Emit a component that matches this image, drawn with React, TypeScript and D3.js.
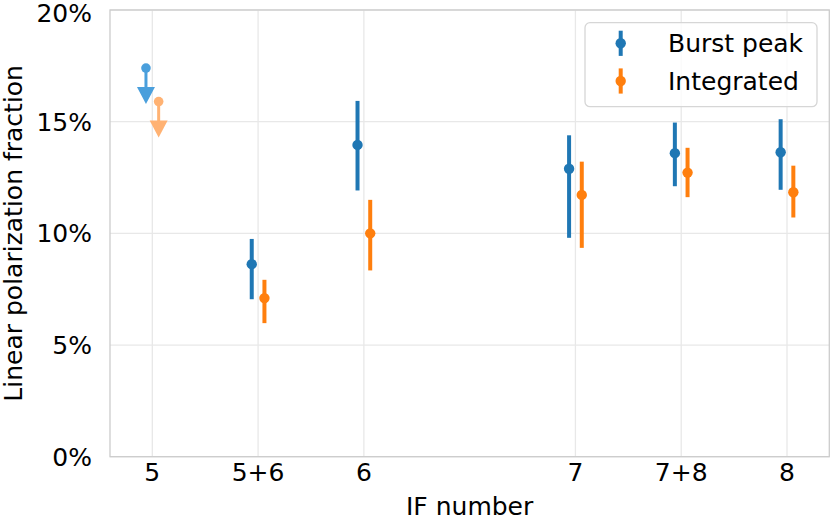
import * as d3 from "d3";

// IF bands and their numeric positions on the x axis
const categories = ["5", "5+6", "6", "7", "7+8", "8"];
const positions = [5, 5.5, 6, 7, 7.5, 8];
const isUpperLimit = [true, false, false, false, false, false];

// linear polarization fraction in percent
const burstPeak = [17.4, 8.62, 13.96, 12.89, 13.59, 13.63];
const burstLow = [0, 7.05, 11.92, 9.8, 12.11, 11.95];
const burstHigh = [0, 9.75, 15.93, 14.39, 14.96, 15.11];

const integrated = [15.9, 7.1, 10.0, 11.72, 12.72, 11.84];
const integratedLow = [0, 5.98, 8.34, 9.35, 11.62, 10.71];
const integratedHigh = [0, 7.92, 11.5, 13.21, 13.83, 13.03];

const yTicks = [0, 5, 10, 15, 20];

const FONT = "DejaVu Sans";

export default function App() {
  const width = 830;
  const height = 521;
  const margin = { top: 10, right: 0.7, bottom: 64.3, left: 110 };

  const x = d3
    .scaleLinear()
    .domain([4.8, 8.2])
    .range([margin.left, width - margin.right]);
  const y = d3
    .scaleLinear()
    .domain([0, 20])
    .range([height - margin.bottom, margin.top]);

  const offset = 0.03;
  const series = [
    {
      name: "Burst peak",
      color: "#1f77b4",
      limitColor: "#4a9fdc",
      dx: -offset,
      values: burstPeak,
      low: burstLow,
      high: burstHigh,
    },
    {
      name: "Integrated",
      color: "#ff7f0e",
      limitColor: "#ffb273",
      dx: offset,
      values: integrated,
      low: integratedLow,
      high: integratedHigh,
    },
  ];

  const x0 = x.range()[0];
  const x1 = x.range()[1];
  const y0 = y.range()[0];
  const y1 = y.range()[1];

  const arrowLen = 36;

  return (
    <svg
      width={width}
      height={height}
      style={{ position: "absolute", left: 0, top: 0, background: "#fff" }}
      fontFamily={FONT}
    >
      {/* grid */}
      <g stroke="#e8e8e8" strokeWidth={1.3}>
        {yTicks.map((t) => (
          <line key={"gy" + t} x1={x0} x2={x1} y1={y(t)} y2={y(t)} />
        ))}
        {positions.map((p) => (
          <line key={"gx" + p} x1={x(p)} x2={x(p)} y1={y0} y2={y1} />
        ))}
      </g>

      {/* frame */}
      <rect
        x={x0}
        y={y1}
        width={x1 - x0}
        height={y0 - y1}
        fill="none"
        stroke="#cccccc"
        strokeWidth={1.3}
      />

      {/* y tick labels */}
      {yTicks.map((t) => (
        <text
          key={"ty" + t}
          x={x0 - 18}
          y={y(t) + (t === 20 ? 3.5 : 0.5)}
          textAnchor="end"
          dominantBaseline="central"
          fontSize={25}
          fill="#000"
        >
          {t + "%"}
        </text>
      ))}

      {/* x tick labels */}
      {positions.map((p, i) => (
        <text
          key={"tx" + p}
          x={x(p)}
          y={481}
          textAnchor="middle"
          fontSize={25}
          fill="#000"
        >
          {categories[i]}
        </text>
      ))}

      {/* axis labels */}
      <text
        x={(x0 + x1) / 2}
        y={515}
        textAnchor="middle"
        fontSize={25}
        fill="#000"
      >
        IF number
      </text>
      <text
        transform={`translate(13.5, ${(y0 + y1) / 2}) rotate(-90)`}
        textAnchor="middle"
        dominantBaseline="central"
        fontSize={25}
        fill="#000"
      >
        Linear polarization fraction
      </text>

      {/* data */}
      {series.map((s) => (
        <g key={s.name}>
          {positions.map((p, i) => {
            const cx = x(p + s.dx);
            const cy = y(s.values[i]);
            if (isUpperLimit[i]) {
              const tip = cy + arrowLen;
              return (
                <g key={p} fill={s.limitColor} stroke={s.limitColor}>
                  <line x1={cx} x2={cx} y1={cy} y2={tip - 16} strokeWidth={3} />
                  <path
                    d={`M${cx - 9},${tip - 17} L${cx + 9},${tip - 17} L${cx},${tip} Z`}
                    stroke="none"
                  />
                  <circle cx={cx} cy={cy} r={4.8} stroke="none" />
                </g>
              );
            }
            return (
              <g key={p}>
                <line
                  x1={cx}
                  x2={cx}
                  y1={y(s.low[i])}
                  y2={y(s.high[i])}
                  stroke={s.color}
                  strokeWidth={4}
                />
                <circle cx={cx} cy={cy} r={5.2} fill={s.color} />
              </g>
            );
          })}
        </g>
      ))}

      {/* legend */}
      <g>
        <rect
          x={585}
          y={22.7}
          width={232}
          height={84}
          rx={5}
          fill="#fff"
          fillOpacity={0.8}
          stroke="#d6d6d6"
          strokeWidth={1.3}
        />
        {series.map((s, i) => {
          const ly = 43.3 + i * 37.7;
          return (
            <g key={"lg" + s.name}>
              <line
                x1={620.7}
                x2={620.7}
                y1={ly - 12.6}
                y2={ly + 12.6}
                stroke={s.color}
                strokeWidth={4}
              />
              <circle cx={620.7} cy={ly} r={5.2} fill={s.color} />
              <text
                x={668}
                y={ly}
                dominantBaseline="central"
                fontSize={25}
                fill="#000"
              >
                {s.name}
              </text>
            </g>
          );
        })}
      </g>
    </svg>
  );
}
